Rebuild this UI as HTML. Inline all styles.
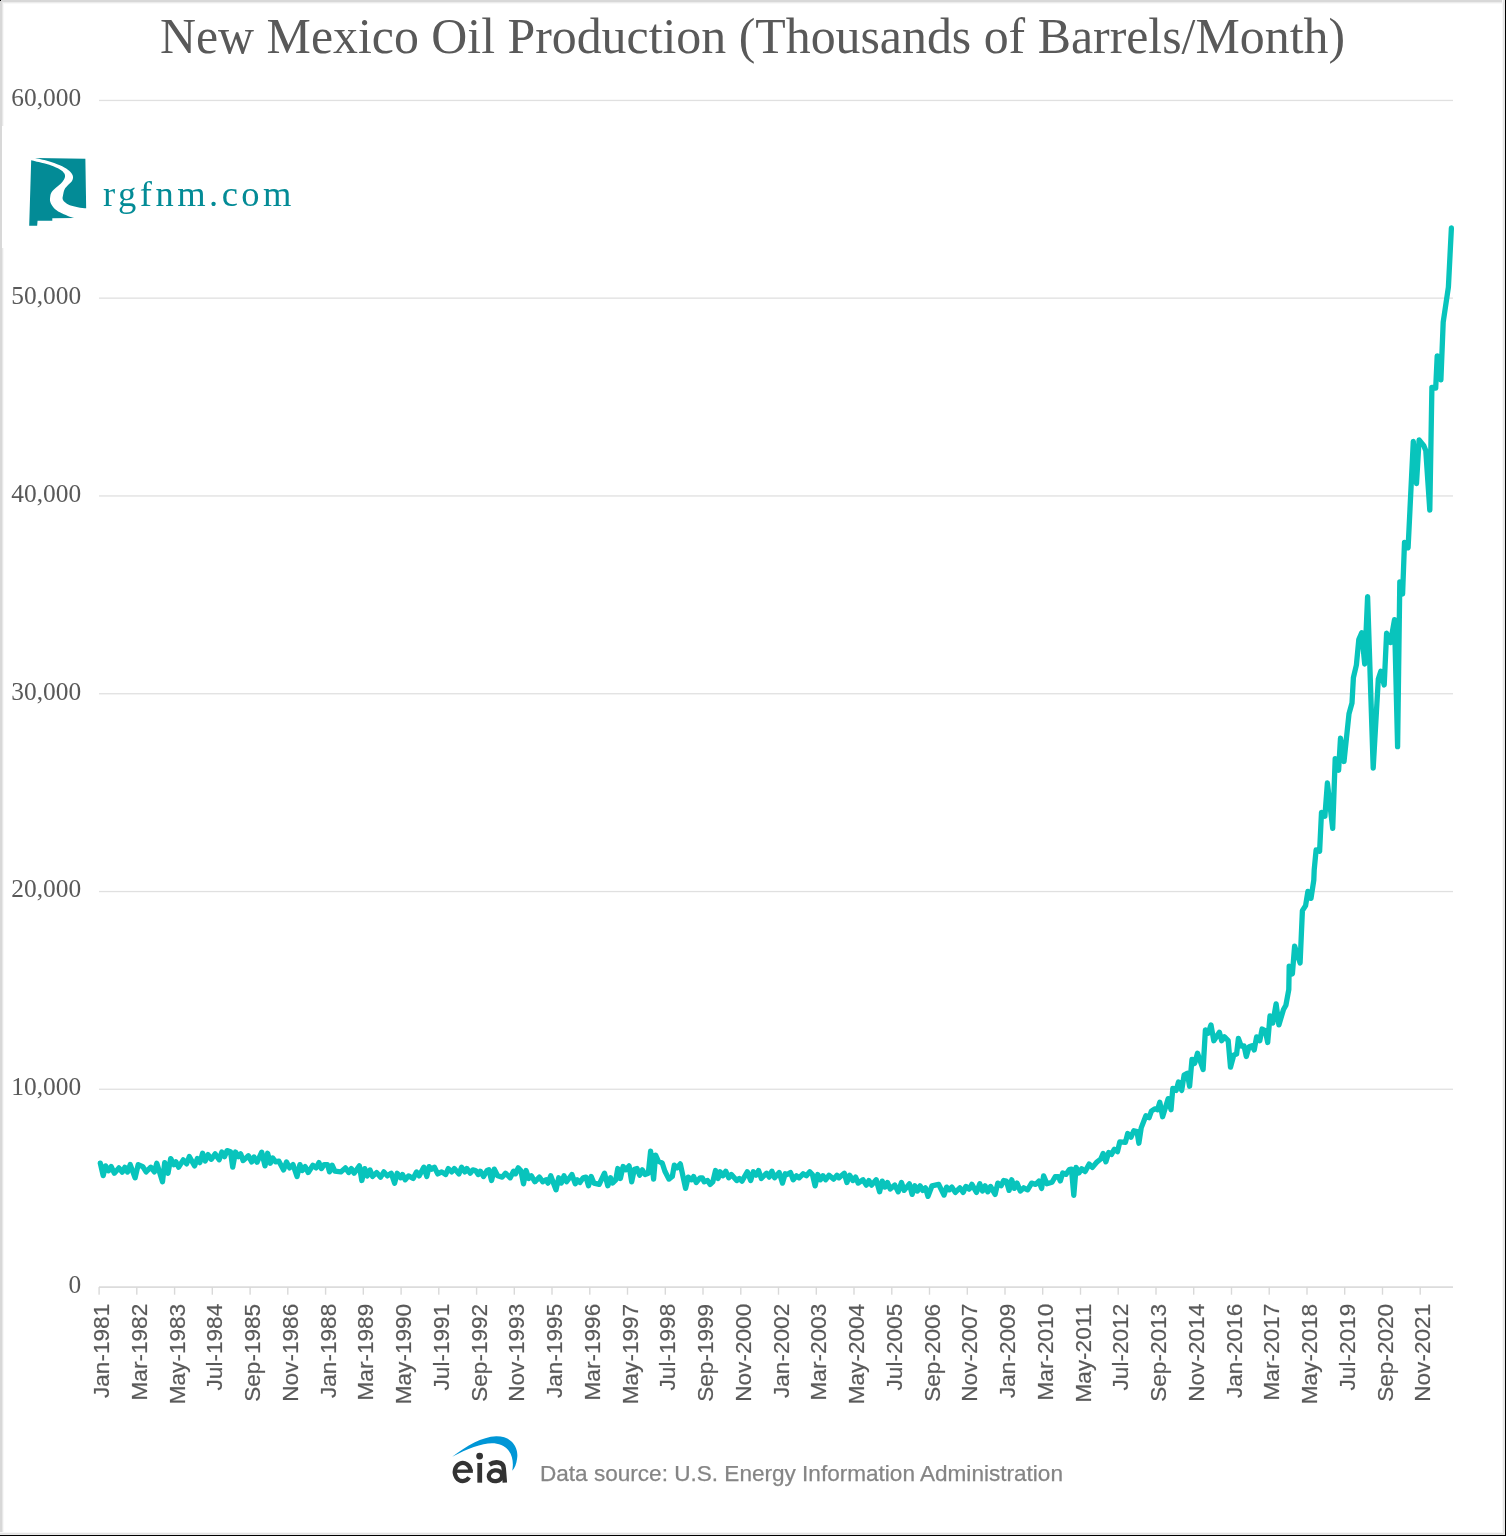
<!DOCTYPE html>
<html><head><meta charset="utf-8"><style>
html,body{margin:0;padding:0;background:#fff;}
body{width:1506px;height:1536px;position:relative;overflow:hidden;}
.b{position:absolute;}
</style></head><body>
<svg width="1506" height="1536" viewBox="0 0 1506 1536" style="position:absolute;left:0;top:0;will-change:transform">
<rect x="99" y="99.8" width="1354" height="1.3" fill="#e0e0e0"/>
<rect x="99" y="297.5" width="1354" height="1.3" fill="#e0e0e0"/>
<rect x="99" y="495.3" width="1354" height="1.3" fill="#e0e0e0"/>
<rect x="99" y="693.1" width="1354" height="1.3" fill="#e0e0e0"/>
<rect x="99" y="890.9" width="1354" height="1.3" fill="#e0e0e0"/>
<rect x="99" y="1088.6" width="1354" height="1.3" fill="#e0e0e0"/>
<rect x="99" y="1286.3" width="1354" height="1.6" fill="#d9d9d9"/>
<rect x="98.4" y="1287.1" width="1.4" height="7.6" fill="#d9d9d9"/>
<rect x="136.1" y="1287.1" width="1.4" height="7.6" fill="#d9d9d9"/>
<rect x="173.9" y="1287.1" width="1.4" height="7.6" fill="#d9d9d9"/>
<rect x="211.6" y="1287.1" width="1.4" height="7.6" fill="#d9d9d9"/>
<rect x="249.4" y="1287.1" width="1.4" height="7.6" fill="#d9d9d9"/>
<rect x="287.1" y="1287.1" width="1.4" height="7.6" fill="#d9d9d9"/>
<rect x="324.9" y="1287.1" width="1.4" height="7.6" fill="#d9d9d9"/>
<rect x="362.6" y="1287.1" width="1.4" height="7.6" fill="#d9d9d9"/>
<rect x="400.4" y="1287.1" width="1.4" height="7.6" fill="#d9d9d9"/>
<rect x="438.1" y="1287.1" width="1.4" height="7.6" fill="#d9d9d9"/>
<rect x="475.9" y="1287.1" width="1.4" height="7.6" fill="#d9d9d9"/>
<rect x="513.6" y="1287.1" width="1.4" height="7.6" fill="#d9d9d9"/>
<rect x="551.3" y="1287.1" width="1.4" height="7.6" fill="#d9d9d9"/>
<rect x="589.1" y="1287.1" width="1.4" height="7.6" fill="#d9d9d9"/>
<rect x="626.8" y="1287.1" width="1.4" height="7.6" fill="#d9d9d9"/>
<rect x="664.6" y="1287.1" width="1.4" height="7.6" fill="#d9d9d9"/>
<rect x="702.3" y="1287.1" width="1.4" height="7.6" fill="#d9d9d9"/>
<rect x="740.1" y="1287.1" width="1.4" height="7.6" fill="#d9d9d9"/>
<rect x="777.8" y="1287.1" width="1.4" height="7.6" fill="#d9d9d9"/>
<rect x="815.6" y="1287.1" width="1.4" height="7.6" fill="#d9d9d9"/>
<rect x="853.3" y="1287.1" width="1.4" height="7.6" fill="#d9d9d9"/>
<rect x="891.1" y="1287.1" width="1.4" height="7.6" fill="#d9d9d9"/>
<rect x="928.8" y="1287.1" width="1.4" height="7.6" fill="#d9d9d9"/>
<rect x="966.6" y="1287.1" width="1.4" height="7.6" fill="#d9d9d9"/>
<rect x="1004.3" y="1287.1" width="1.4" height="7.6" fill="#d9d9d9"/>
<rect x="1042.0" y="1287.1" width="1.4" height="7.6" fill="#d9d9d9"/>
<rect x="1079.8" y="1287.1" width="1.4" height="7.6" fill="#d9d9d9"/>
<rect x="1117.5" y="1287.1" width="1.4" height="7.6" fill="#d9d9d9"/>
<rect x="1155.3" y="1287.1" width="1.4" height="7.6" fill="#d9d9d9"/>
<rect x="1193.0" y="1287.1" width="1.4" height="7.6" fill="#d9d9d9"/>
<rect x="1230.8" y="1287.1" width="1.4" height="7.6" fill="#d9d9d9"/>
<rect x="1268.5" y="1287.1" width="1.4" height="7.6" fill="#d9d9d9"/>
<rect x="1306.3" y="1287.1" width="1.4" height="7.6" fill="#d9d9d9"/>
<rect x="1344.0" y="1287.1" width="1.4" height="7.6" fill="#d9d9d9"/>
<rect x="1381.8" y="1287.1" width="1.4" height="7.6" fill="#d9d9d9"/>
<rect x="1419.5" y="1287.1" width="1.4" height="7.6" fill="#d9d9d9"/>
<text transform="translate(81.2,106.3) scale(0.97,1)" text-anchor="end" font-family="&quot;Liberation Serif&quot;, serif" font-size="26.2" fill="#595959">60,000</text>
<text transform="translate(81.2,304.1) scale(0.97,1)" text-anchor="end" font-family="&quot;Liberation Serif&quot;, serif" font-size="26.2" fill="#595959">50,000</text>
<text transform="translate(81.2,501.9) scale(0.97,1)" text-anchor="end" font-family="&quot;Liberation Serif&quot;, serif" font-size="26.2" fill="#595959">40,000</text>
<text transform="translate(81.2,699.6) scale(0.97,1)" text-anchor="end" font-family="&quot;Liberation Serif&quot;, serif" font-size="26.2" fill="#595959">30,000</text>
<text transform="translate(81.2,897.4) scale(0.97,1)" text-anchor="end" font-family="&quot;Liberation Serif&quot;, serif" font-size="26.2" fill="#595959">20,000</text>
<text transform="translate(81.2,1095.2) scale(0.97,1)" text-anchor="end" font-family="&quot;Liberation Serif&quot;, serif" font-size="26.2" fill="#595959">10,000</text>
<text transform="translate(81.2,1293.0) scale(0.97,1)" text-anchor="end" font-family="&quot;Liberation Serif&quot;, serif" font-size="26.2" fill="#595959">0</text>
<text transform="translate(109.1,1303.8) rotate(-90)" text-anchor="end" font-family="&quot;Liberation Sans&quot;, sans-serif" font-size="22.6" fill="#595959" stroke="#595959" stroke-width="0.2">Jan-1981</text>
<text transform="translate(146.8,1303.8) rotate(-90)" text-anchor="end" font-family="&quot;Liberation Sans&quot;, sans-serif" font-size="22.6" fill="#595959" stroke="#595959" stroke-width="0.2">Mar-1982</text>
<text transform="translate(184.6,1303.8) rotate(-90)" text-anchor="end" font-family="&quot;Liberation Sans&quot;, sans-serif" font-size="22.6" fill="#595959" stroke="#595959" stroke-width="0.2">May-1983</text>
<text transform="translate(222.3,1303.8) rotate(-90)" text-anchor="end" font-family="&quot;Liberation Sans&quot;, sans-serif" font-size="22.6" fill="#595959" stroke="#595959" stroke-width="0.2">Jul-1984</text>
<text transform="translate(260.1,1303.8) rotate(-90)" text-anchor="end" font-family="&quot;Liberation Sans&quot;, sans-serif" font-size="22.6" fill="#595959" stroke="#595959" stroke-width="0.2">Sep-1985</text>
<text transform="translate(297.8,1303.8) rotate(-90)" text-anchor="end" font-family="&quot;Liberation Sans&quot;, sans-serif" font-size="22.6" fill="#595959" stroke="#595959" stroke-width="0.2">Nov-1986</text>
<text transform="translate(335.6,1303.8) rotate(-90)" text-anchor="end" font-family="&quot;Liberation Sans&quot;, sans-serif" font-size="22.6" fill="#595959" stroke="#595959" stroke-width="0.2">Jan-1988</text>
<text transform="translate(373.3,1303.8) rotate(-90)" text-anchor="end" font-family="&quot;Liberation Sans&quot;, sans-serif" font-size="22.6" fill="#595959" stroke="#595959" stroke-width="0.2">Mar-1989</text>
<text transform="translate(411.1,1303.8) rotate(-90)" text-anchor="end" font-family="&quot;Liberation Sans&quot;, sans-serif" font-size="22.6" fill="#595959" stroke="#595959" stroke-width="0.2">May-1990</text>
<text transform="translate(448.8,1303.8) rotate(-90)" text-anchor="end" font-family="&quot;Liberation Sans&quot;, sans-serif" font-size="22.6" fill="#595959" stroke="#595959" stroke-width="0.2">Jul-1991</text>
<text transform="translate(486.6,1303.8) rotate(-90)" text-anchor="end" font-family="&quot;Liberation Sans&quot;, sans-serif" font-size="22.6" fill="#595959" stroke="#595959" stroke-width="0.2">Sep-1992</text>
<text transform="translate(524.3,1303.8) rotate(-90)" text-anchor="end" font-family="&quot;Liberation Sans&quot;, sans-serif" font-size="22.6" fill="#595959" stroke="#595959" stroke-width="0.2">Nov-1993</text>
<text transform="translate(562.0,1303.8) rotate(-90)" text-anchor="end" font-family="&quot;Liberation Sans&quot;, sans-serif" font-size="22.6" fill="#595959" stroke="#595959" stroke-width="0.2">Jan-1995</text>
<text transform="translate(599.8,1303.8) rotate(-90)" text-anchor="end" font-family="&quot;Liberation Sans&quot;, sans-serif" font-size="22.6" fill="#595959" stroke="#595959" stroke-width="0.2">Mar-1996</text>
<text transform="translate(637.5,1303.8) rotate(-90)" text-anchor="end" font-family="&quot;Liberation Sans&quot;, sans-serif" font-size="22.6" fill="#595959" stroke="#595959" stroke-width="0.2">May-1997</text>
<text transform="translate(675.3,1303.8) rotate(-90)" text-anchor="end" font-family="&quot;Liberation Sans&quot;, sans-serif" font-size="22.6" fill="#595959" stroke="#595959" stroke-width="0.2">Jul-1998</text>
<text transform="translate(713.0,1303.8) rotate(-90)" text-anchor="end" font-family="&quot;Liberation Sans&quot;, sans-serif" font-size="22.6" fill="#595959" stroke="#595959" stroke-width="0.2">Sep-1999</text>
<text transform="translate(750.8,1303.8) rotate(-90)" text-anchor="end" font-family="&quot;Liberation Sans&quot;, sans-serif" font-size="22.6" fill="#595959" stroke="#595959" stroke-width="0.2">Nov-2000</text>
<text transform="translate(788.5,1303.8) rotate(-90)" text-anchor="end" font-family="&quot;Liberation Sans&quot;, sans-serif" font-size="22.6" fill="#595959" stroke="#595959" stroke-width="0.2">Jan-2002</text>
<text transform="translate(826.3,1303.8) rotate(-90)" text-anchor="end" font-family="&quot;Liberation Sans&quot;, sans-serif" font-size="22.6" fill="#595959" stroke="#595959" stroke-width="0.2">Mar-2003</text>
<text transform="translate(864.0,1303.8) rotate(-90)" text-anchor="end" font-family="&quot;Liberation Sans&quot;, sans-serif" font-size="22.6" fill="#595959" stroke="#595959" stroke-width="0.2">May-2004</text>
<text transform="translate(901.8,1303.8) rotate(-90)" text-anchor="end" font-family="&quot;Liberation Sans&quot;, sans-serif" font-size="22.6" fill="#595959" stroke="#595959" stroke-width="0.2">Jul-2005</text>
<text transform="translate(939.5,1303.8) rotate(-90)" text-anchor="end" font-family="&quot;Liberation Sans&quot;, sans-serif" font-size="22.6" fill="#595959" stroke="#595959" stroke-width="0.2">Sep-2006</text>
<text transform="translate(977.3,1303.8) rotate(-90)" text-anchor="end" font-family="&quot;Liberation Sans&quot;, sans-serif" font-size="22.6" fill="#595959" stroke="#595959" stroke-width="0.2">Nov-2007</text>
<text transform="translate(1015.0,1303.8) rotate(-90)" text-anchor="end" font-family="&quot;Liberation Sans&quot;, sans-serif" font-size="22.6" fill="#595959" stroke="#595959" stroke-width="0.2">Jan-2009</text>
<text transform="translate(1052.7,1303.8) rotate(-90)" text-anchor="end" font-family="&quot;Liberation Sans&quot;, sans-serif" font-size="22.6" fill="#595959" stroke="#595959" stroke-width="0.2">Mar-2010</text>
<text transform="translate(1090.5,1303.8) rotate(-90)" text-anchor="end" font-family="&quot;Liberation Sans&quot;, sans-serif" font-size="22.6" fill="#595959" stroke="#595959" stroke-width="0.2">May-2011</text>
<text transform="translate(1128.2,1303.8) rotate(-90)" text-anchor="end" font-family="&quot;Liberation Sans&quot;, sans-serif" font-size="22.6" fill="#595959" stroke="#595959" stroke-width="0.2">Jul-2012</text>
<text transform="translate(1166.0,1303.8) rotate(-90)" text-anchor="end" font-family="&quot;Liberation Sans&quot;, sans-serif" font-size="22.6" fill="#595959" stroke="#595959" stroke-width="0.2">Sep-2013</text>
<text transform="translate(1203.7,1303.8) rotate(-90)" text-anchor="end" font-family="&quot;Liberation Sans&quot;, sans-serif" font-size="22.6" fill="#595959" stroke="#595959" stroke-width="0.2">Nov-2014</text>
<text transform="translate(1241.5,1303.8) rotate(-90)" text-anchor="end" font-family="&quot;Liberation Sans&quot;, sans-serif" font-size="22.6" fill="#595959" stroke="#595959" stroke-width="0.2">Jan-2016</text>
<text transform="translate(1279.2,1303.8) rotate(-90)" text-anchor="end" font-family="&quot;Liberation Sans&quot;, sans-serif" font-size="22.6" fill="#595959" stroke="#595959" stroke-width="0.2">Mar-2017</text>
<text transform="translate(1317.0,1303.8) rotate(-90)" text-anchor="end" font-family="&quot;Liberation Sans&quot;, sans-serif" font-size="22.6" fill="#595959" stroke="#595959" stroke-width="0.2">May-2018</text>
<text transform="translate(1354.7,1303.8) rotate(-90)" text-anchor="end" font-family="&quot;Liberation Sans&quot;, sans-serif" font-size="22.6" fill="#595959" stroke="#595959" stroke-width="0.2">Jul-2019</text>
<text transform="translate(1392.5,1303.8) rotate(-90)" text-anchor="end" font-family="&quot;Liberation Sans&quot;, sans-serif" font-size="22.6" fill="#595959" stroke="#595959" stroke-width="0.2">Sep-2020</text>
<text transform="translate(1430.2,1303.8) rotate(-90)" text-anchor="end" font-family="&quot;Liberation Sans&quot;, sans-serif" font-size="22.6" fill="#595959" stroke="#595959" stroke-width="0.2">Nov-2021</text>
<text x="160" y="52.9" font-family="&quot;Liberation Serif&quot;, serif" font-size="50.4" fill="#595959" textLength="1185" lengthAdjust="spacingAndGlyphs">New Mexico Oil Production (Thousands of Barrels/Month)</text>
<polyline points="100.3,1163.2 103.2,1175.6 105.6,1165.9 108.5,1170.8 111.2,1166.6 114.3,1173.2 118.9,1167.9 122.2,1172.1 124.9,1167.2 127.5,1172.1 130.2,1164.6 135.1,1177.8 138.2,1164.6 142.8,1166.6 146.1,1171.9 150.8,1167.2 154.4,1171.9 156.8,1163.2 162.5,1181.8 164.7,1162.6 168,1173.2 170.7,1158.6 174,1164.6 176,1161.9 178.7,1167.2 183.3,1159.9 186.6,1163.9 189.3,1156.6 194.6,1165.9 197.3,1158.6 199.9,1162.6 202.6,1153.3 205.2,1161 208.1,1154.6 211.2,1159.3 215.2,1153.9 219.2,1159.7 221.8,1152 224.5,1156.6 227.1,1150.6 230.5,1151.7 232.7,1167.2 235.5,1152 238.4,1156.6 240.7,1153.9 243.1,1160.6 248.4,1155.7 251.7,1161.9 254,1157 257,1162.3 261.7,1152.2 265,1165.9 267.6,1153.3 270.3,1163.2 272.6,1157.9 275.6,1161.9 278.9,1161.2 283.6,1169.9 286.5,1161.9 289.6,1167.9 293,1164.6 297,1176.5 299.9,1164.6 302.3,1170.5 305.2,1166.6 308.2,1172.5 312.9,1165.2 316.2,1167.9 318.9,1162.6 321.5,1168.6 324.2,1164.6 327.5,1164.6 329.5,1171.9 332.1,1165.2 334.8,1171.2 340.8,1171.9 345.4,1167.9 348.7,1172.5 351.4,1168.6 354.1,1173.2 359.4,1165.9 361.8,1180.5 364.7,1168.6 367.3,1175.9 370,1169.9 372.6,1176.5 376.6,1172.5 380.6,1177.2 383.9,1171.9 387.3,1175.9 391.2,1173.2 394.6,1183.2 397.2,1173.2 400.5,1177.8 402.5,1174.5 405.2,1179.8 408.5,1175.9 413.2,1178.5 416.5,1171.9 419.1,1175.9 423.8,1167.2 426.8,1176.5 429.1,1166.6 431.7,1169.2 434.4,1167.2 437.7,1173.9 441.7,1171.9 445.7,1174.5 448.3,1168.6 451.7,1171.9 454.3,1168.6 459,1173.9 461.6,1167.2 464.9,1171.9 466.9,1168.6 470.3,1173.2 472.9,1169.9 475.6,1170.5 478.2,1174.5 480.3,1171.2 483.6,1176.5 487,1170.5 488.9,1169.8 491.6,1180.5 494.3,1169.2 497.6,1175.8 502.2,1177.1 505.5,1173.2 510.2,1177.8 513.5,1171.2 515.5,1173.8 518.2,1167.8 520.8,1170.5 523.5,1183.8 526.1,1170.5 528.8,1178.5 531.4,1175.8 534.8,1181.8 539.4,1177.1 542.7,1181.8 546,1179.8 548,1183.1 550.7,1175.8 556,1189.8 558.7,1177.8 561.3,1183.1 564,1175.8 566.6,1181.8 571.9,1174.5 575.3,1183.8 577.3,1179.8 579.9,1182.5 583.2,1177.8 585.9,1177.1 588.5,1185.8 591.2,1176.5 593.9,1183.1 599.2,1184.4 604.5,1173.2 607.8,1185.8 610.5,1177.8 612.5,1183.1 615.8,1179.8 617.8,1168.5 620.4,1178.5 623.1,1166.5 625.7,1169.8 629.1,1165.9 631.7,1181.8 634.4,1169.2 637,1168.5 639.7,1175.2 642.3,1169.8 645,1174.5 648.3,1173.2 650.6,1151.2 653.6,1179.1 655.6,1155.2 658.3,1161.2 662.3,1163.2 664.9,1171.2 668.9,1179.1 672.3,1176.5 674.3,1165.2 677,1167.8 680.3,1163.9 685.6,1188.4 688.2,1177.1 691.6,1179.8 693.6,1176.5 696.2,1182.5 700.2,1177.8 702.2,1177.8 704.2,1181.8 707.5,1180.5 710.2,1184.4 712.8,1181.8 715.5,1170.5 718.1,1178.5 720.1,1171.8 722.8,1175.8 725.8,1171.2 728.7,1177.8 731.4,1174.5 736.7,1180.5 739.4,1178.5 742,1181.1 747.3,1171.8 750.7,1180.5 753.3,1171.8 756,1175.2 758.6,1170.5 761.3,1178.5 766.6,1173.2 769.2,1177.1 771.9,1171.2 774.6,1177.8 779.2,1172.5 782.5,1183.1 785.2,1173.8 787.2,1174.5 790.5,1172.5 793.2,1179.8 796.5,1175.8 799.1,1177.8 803.1,1173.8 806.4,1175.8 809.8,1171.8 812.4,1174.5 815.1,1185.8 817.7,1174.5 820.4,1179.8 823,1175.8 825.7,1179.8 829,1175.2 833.7,1179.1 837,1175.2 839,1177.8 844.3,1173.2 846.9,1182.5 849.6,1175.2 852.9,1180.5 855.6,1177.1 858.2,1183.1 863,1179.8 866.3,1185.1 868.9,1180.5 871.6,1185.1 876.2,1179.8 879.6,1191.8 882.2,1181.1 884.9,1187.1 887.5,1182.5 890.2,1189.1 894.8,1185.1 898.2,1191.8 901.5,1182.5 904.1,1190.4 909.4,1183.8 912.1,1194.4 914.8,1185.8 917.4,1191.1 920.1,1185.8 922.7,1190.4 925.4,1187.8 928,1196.4 932,1185.8 938.7,1184.4 944,1195.1 946.6,1187.1 949.3,1189.8 951.9,1187.1 955.3,1192.4 959.9,1187.8 963.2,1192.4 965.9,1186.4 969.2,1189.1 971.9,1184.4 976.5,1192.4 979.8,1183.8 982.5,1191.1 985.1,1185.8 987.8,1191.8 990.5,1186.4 995.1,1194.4 997.8,1183.1 1001.1,1185.8 1003.7,1180.5 1006.4,1181.1 1009.1,1190.4 1011.7,1179.8 1014.4,1188.4 1017,1183.1 1020.3,1191.1 1023.7,1187.8 1027.6,1189.8 1031.6,1183.1 1035.6,1184.4 1038.9,1181.1 1041.6,1188.4 1043.6,1175.8 1046.9,1183.8 1052,1182.3 1055.2,1176.7 1058.5,1176.7 1060.3,1180.9 1062.7,1173 1065.9,1174.4 1069.2,1169.7 1071.5,1169.2 1073.8,1195.3 1076.1,1167.4 1078.9,1173 1081.7,1168.8 1085,1171.6 1089.2,1164.1 1092.4,1167.4 1097.1,1161.8 1100.8,1159 1103.1,1153.4 1105.9,1161.8 1108.7,1152.5 1111.5,1154.4 1114.3,1149.3 1117.5,1151.6 1119.8,1141.8 1125.4,1142.3 1127.7,1133.5 1131,1137.2 1133.8,1130.7 1137,1131.6 1138.9,1143.2 1141.2,1127.9 1145.9,1115.8 1149.1,1117.6 1151.4,1111.1 1154.7,1108.8 1157.5,1109.7 1159.8,1102.3 1162.6,1116.7 1168.2,1098.6 1171,1109.7 1172.8,1088.4 1176.2,1090.4 1178.5,1082 1181.7,1090.4 1184.1,1075.1 1187.3,1073.2 1189.6,1086.2 1192,1059.3 1194.7,1063.4 1197.5,1053.2 1203.1,1069.5 1205.4,1030 1208.2,1033.2 1211,1024.9 1213.8,1040.7 1219.4,1032.3 1221.7,1040.7 1224.5,1036.9 1228.2,1040.7 1230.5,1067.2 1233.8,1055.1 1236.6,1054.1 1238.4,1038.3 1241.2,1046.2 1244,1045.8 1246.3,1056.5 1249.1,1046.7 1251.9,1045.8 1254.2,1050 1256.6,1036.9 1259.8,1040.7 1262.1,1029 1265.4,1030.9 1267.7,1042.5 1270,1016 1272.8,1023 1276.1,1003.9 1278.9,1024.9 1283.5,1009.5 1285.9,1005.3 1288.8,989.4 1289.2,966.2 1292.4,973.9 1294.6,946.1 1300.1,963 1302.4,910.6 1305.6,905.6 1307.9,891.4 1311,898.3 1313.8,880.1 1314.2,870 1316.1,849.9 1319.6,851.3 1321.5,812.3 1324.9,816.2 1327.4,783 1332.7,828.4 1335.2,758.6 1338.6,770.3 1340.5,738.1 1344,761.5 1349,713.8 1352,703 1353.4,677.7 1356.4,665 1358.8,639.6 1361.7,632.7 1364.7,664 1367.6,596.6 1373.2,768 1378.3,679.1 1380.8,671.3 1384.2,685 1386.6,633.2 1390.5,642.5 1394.5,619.6 1397.6,746.6 1399.8,582 1402.6,594 1404.5,542.5 1408.1,547.7 1413.3,441.5 1416.5,483.6 1419.1,439.9 1423.8,445.6 1425.8,450.8 1429.8,510.2 1431.9,387.3 1435.7,388.1 1437.2,355.9 1440.9,379.8 1443.2,322.2 1448.4,287.1 1451.4,228" fill="none" stroke="#08c4bc" stroke-width="5.3" stroke-linejoin="round" stroke-linecap="round"/>
<g transform="translate(20,145) scale(0.05861)"><path fill="#038b96" d="M190.9,259 C227.2,268.1 343.8,295.2 408.4,313.3 C473.0,331.4 529.6,348.4 578.3,367.7 C627.0,387.0 671.2,409.6 700.7,428.9 C730.2,448.2 743.7,465.2 755.0,483.3 C766.3,501.4 769.7,519.5 768.6,537.6 C767.5,555.7 760.8,571.6 748.3,592.0 C735.8,612.4 716.6,637.3 693.9,660.0 C671.2,682.7 637.2,705.4 612.3,728.0 C587.4,750.6 560.2,772.3 544.3,795.9 C528.4,819.5 521.6,840.4 517.1,869.7 C512.6,899.0 506.9,937.6 517.1,971.6 C527.3,1005.6 551.1,1044.1 578.3,1073.6 C605.5,1103.0 640.6,1125.6 680.3,1148.3 C719.9,1171.0 775.4,1193.1 816.2,1209.5 C857.0,1225.9 906.8,1240.7 924.9,1246.9 L551.1,1250.3 L551.1,1291 L299.6,1291 L292.8,1379.4 L156.9,1379.4 Z"/><path fill="#038b96" d="M258.8,221.6 L1115.3,235.2 L1128.9,1080.4 C1105.1,1077.0 1032.5,1069.1 986.1,1060.0 C939.6,1050.9 887.6,1040.7 850.2,1026.0 C812.8,1011.3 782.2,989.3 761.8,971.6 C741.4,953.9 732.3,939.8 727.8,920.0 C723.3,900.2 729.3,880.5 735.0,853.0 C740.7,825.5 748.3,782.7 761.8,755.1 C775.3,727.5 795.8,709.9 816.2,687.2 C836.6,664.6 869.5,641.9 884.2,619.2 C898.9,596.5 904.6,572.7 904.6,551.2 C904.6,529.7 898.9,511.6 884.2,490.1 C869.5,468.6 850.2,445.9 816.2,422.1 C782.2,398.3 736.9,372.2 680.3,347.3 C623.7,322.4 546.6,293.6 476.4,272.6 C406.1,251.7 295.1,230.1 258.8,221.6 Z"/></g>
<text x="103" y="206.1" font-family="&quot;Liberation Serif&quot;, serif" font-size="36.5" letter-spacing="3.5" fill="#038b96">rgfnm.com</text>
<g transform="translate(440,1425) scale(0.05976)"><path fill="#0096d6" d="M205,530 C450,350 700,200 940,190 C1200,185 1320,380 1290,560 C1280,650 1250,720 1210,765 C1230,650 1220,520 1150,430 C1080,340 980,305 870,305 C700,305 450,400 205,530 Z"/><path fill="none" stroke="#333333" stroke-width="70" d="M514,772 A134,152 0 1 0 488,878"/><rect x="245" y="745" width="305" height="56" fill="#333333"/><rect x="625" y="635" width="80" height="330" fill="#333333"/><circle cx="663" cy="520" r="57" fill="#333333"/><path fill="none" stroke="#333333" stroke-width="76" d="M828,662 C900,612 1062,598 1066,725 L1085,965"/><ellipse cx="928" cy="850" rx="112" ry="90" transform="rotate(-8 928 850)" fill="none" stroke="#333333" stroke-width="72"/></g>
<text x="540" y="1481.2" font-family="&quot;Liberation Sans&quot;, sans-serif" font-size="22.57" fill="#858585" stroke="#858585" stroke-width="0.25">Data source: U.S. Energy Information Administration</text>
</svg>
<div class="b" style="left:0;top:0;width:1506px;height:2px;background:#d8d8d8"></div>
<div class="b" style="left:2px;top:2px;width:1500px;height:1px;background:#ececec"></div>
<div class="b" style="left:3px;top:3px;width:1499px;height:1px;background:#f8f8f8"></div>
<div class="b" style="left:0;top:0;width:2px;height:1536px;background:#d8d8d8"></div>
<div class="b" style="left:2px;top:2px;width:1px;height:124px;background:#e8e8e8"></div>
<div class="b" style="left:3px;top:3px;width:1px;height:123px;background:#f8f8f8"></div>
<div class="b" style="left:2px;top:248px;width:1px;height:1286px;background:#e8e8e8"></div>
<div class="b" style="left:3px;top:248px;width:1px;height:1285px;background:#f8f8f8"></div>
<div class="b" style="left:1502px;top:0;width:1px;height:1536px;background:#f6f6f6"></div>
<div class="b" style="left:0;top:1532px;width:1506px;height:1px;background:#f6f6f6"></div>
<div class="b" style="left:1503px;top:0;width:1px;height:1536px;background:#e3e3e3"></div>
<div class="b" style="left:0;top:1533px;width:1506px;height:1px;background:#e3e3e3"></div>
<div class="b" style="left:1504px;top:0;width:1px;height:1536px;background:#e8e8e8"></div>
<div class="b" style="left:0;top:1534px;width:1506px;height:1px;background:#e8e8e8"></div>
<div class="b" style="left:0;top:0;width:1px;height:1px;background:#000"></div>
<div class="b" style="left:1505px;top:0;width:1px;height:1536px;background:#000"></div>
<div class="b" style="left:0;top:1535px;width:1506px;height:1px;background:#000"></div>
</body></html>
